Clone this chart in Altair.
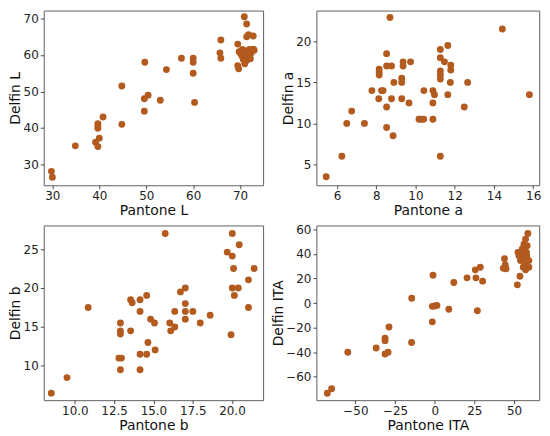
import altair as alt
import pandas as pd

COLOR = "#b35a1f"

# Panel 1: L
p1_x = [29.8, 30.0, 34.9, 39.2, 39.7, 40.0, 39.7, 39.7, 39.7, 40.8, 44.8, 44.8,
        49.7, 49.6, 50.4, 49.6, 53.0, 54.3, 57.5, 60.0, 60.0, 60.0, 60.3,
        65.9, 65.7, 65.9, 70.9, 71.4, 71.8, 71.4, 72.8, 69.5, 69.5, 69.7,
        70.5, 71.0, 71.5, 72.0, 72.8, 73.0, 70.8, 71.3, 71.8, 72.3, 70.7,
        71.2, 71.7, 71.0, 70.5, 72.2, 69.8, 70.2]
p1_y = [28.1, 26.5, 35.1, 36.1, 34.9, 37.2, 41.2, 40.5, 39.9, 43.0, 51.5, 41.0,
        58.0, 48.0, 49.0, 44.6, 47.6, 56.0, 59.1, 59.1, 58.0, 55.0, 47.0,
        64.1, 60.6, 59.1, 70.5, 68.5, 65.6, 65.0, 65.2, 63.0, 57.1, 56.2,
        61.5, 60.8, 61.2, 61.5, 61.6, 61.3, 60.0, 59.5, 60.2, 60.5, 58.8,
        58.3, 58.8, 57.6, 59.5, 59.0, 60.9, 60.2]

# Panel 2: a
p2_x = [5.45, 6.25, 6.5, 6.75, 7.4, 7.78, 8.13, 8.15, 8.15, 8.15, 8.27, 8.35,
        8.53, 8.53, 8.53, 8.53, 8.7, 8.78, 8.78, 8.86, 8.9, 9.3, 9.3, 9.3,
        9.37, 9.37, 9.67, 9.75, 10.18, 10.3, 10.42, 10.43, 10.89, 10.97,
        10.89, 10.89, 11.27, 11.27, 11.65, 11.27, 11.48, 11.27, 11.27, 11.27,
        11.8, 11.8, 11.78, 11.65, 12.49, 12.66, 14.43, 15.81]
p2_y = [3.5, 6.0, 10.0, 11.5, 10.0, 14.0, 13.0, 16.6, 16.25, 15.9, 14.0, 14.0,
        18.5, 17.0, 12.0, 9.5, 22.9, 17.0, 13.0, 8.5, 15.0, 15.5, 15.0, 13.0,
        17.5, 17.0, 12.5, 17.5, 10.5, 10.5, 10.5, 14.0, 14.0, 13.5,
        12.5, 10.5, 6.0, 19.0, 19.5, 18.0, 17.5, 16.4, 15.9, 15.4,
        17.1, 16.5, 15.0, 13.5, 12.0, 15.0, 21.5, 13.5]

# Panel 3: b
p3_x = [8.5, 9.5, 10.85, 12.9, 12.9, 12.9, 12.8, 12.97, 12.9, 13.55, 13.65,
        13.55, 14.15, 14.15, 14.15, 14.57, 14.15, 14.57, 14.65, 14.82, 15.07,
        15.11, 15.75, 16.04, 16.1, 16.36, 16.36, 16.72, 17.03, 17.03, 17.03,
        17.03, 17.51, 17.98, 18.61, 19.94, 19.7, 20.02, 20.02, 20.46, 20.1,
        20.02, 20.4, 20.15, 21.05, 21.41, 21.05]
p3_y = [6.5, 8.5, 17.5, 15.5, 14.5, 14.1, 11.0, 11.0, 9.5, 18.5, 18.1,
        14.5, 18.5, 17.0, 11.5, 11.5, 9.5, 19.05, 13.0, 16.0, 15.5,
        12.05, 27.0, 15.5, 14.5, 15.0, 17.0, 19.5, 20.0, 18.0, 17.0,
        16.0, 17.0, 15.5, 16.5, 14.0, 24.6, 27.0, 24.1, 25.55, 22.5,
        20.0, 20.0, 19.05, 21.05, 22.5, 17.5]

# Panel 4: ITA
p4_x = [-67.7, -65.0, -54.8, -36.9, -31.3, -31.3, -28.8, -31.3, -29.4, -14.5,
        -14.6, -1.06, -1.5, 0.0, 1.4, -1.5, 8.9, 12.06, 20.4, 26.0, 25.6,
        28.75, 30.2, 26.9, 44.0, 44.5, 43.3, 45.0, 53.75, 52.1,
        58.75, 57.3, 56.25, 58.3, 55.2, 54.6, 53.1, 56.25, 57.9, 59.4, 57.3,
        59.4, 57.3, 55.8, 54.1, 52.5, 56.5, 58.0, 55.0]
p4_y = [-73.4, -69.7, -40.0, -36.6, -28.6, -30.6, -19.5, -41.4, -40.0, 3.9,
        -32.1, 22.6, -2.7, -2.4, -1.9, -15.3, -5.1, 16.7, 20.5, 20.5, 27.0,
        29.1, 17.8, -6.2, 36.1, 31.0, 28.3, 27.8, 21.8, 14.8,
        56.5, 52.0, 47.9, 46.6, 43.9, 39.9, 38.5, 37.1, 41.2, 34.5, 31.8,
        29.1, 27.0, 29.1, 34.5, 41.2, 44.0, 38.0, 36.0]

WL, WR, H = 221, 224.5, 176


def panel(xs, ys, xdom, ydom, xticks, yticks, xtitle, ytitle, w, xfmt="d", yfmt="d"):
    df = pd.DataFrame({"x": xs, "y": ys})
    return alt.Chart(df).mark_circle(size=48, color=COLOR, opacity=1).encode(
        x=alt.X("x:Q", scale=alt.Scale(domain=xdom, nice=False, zero=False),
                axis=alt.Axis(values=xticks, format=xfmt, title=xtitle)),
        y=alt.Y("y:Q", scale=alt.Scale(domain=ydom, nice=False, zero=False),
                axis=alt.Axis(values=yticks, format=yfmt, title=ytitle)),
    ).properties(width=w, height=H)


c1 = panel(p1_x, p1_y, [28.16, 74.9], [24.29, 72.18], [30, 40, 50, 60, 70],
           [30, 40, 50, 60, 70], "Pantone L", "Delfin L", WL)
c2 = panel(p2_x, p2_y, [4.95, 16.31], [2.46, 23.75], [6, 8, 10, 12, 14, 16],
           [5, 10, 15, 20], "Pantone a", "Delfin a", WR)
c3 = panel(p3_x, p3_y, [8.02, 21.98], [5.6, 28.03], [10, 12.5, 15, 17.5, 20],
           [10, 15, 20, 25], "Pantone b", "Delfin b", WL, xfmt=".1f")
c4 = panel(p4_x, p4_y, [-74.6, 65.9], [-78.97, 63.07], [-50, -25, 0, 25, 50],
           [-60, -40, -20, 0, 20, 40, 60], "Pantone ITA", "Delfin ITA", WR)

chart = alt.concat(c1, c2, c3, c4, columns=2,
                   spacing={"row": 40.5, "column": 53.7}, bounds="flush").properties(
    padding={"left": 0, "top": 0, "right": 0, "bottom": 0}
).configure_view(
    stroke="#606060", strokeWidth=1
).configure_axis(
    grid=False, domain=False,
    tickColor="#222222", tickSize=3.5, tickWidth=0.8,
    labelFont="DejaVu Sans", labelFontSize=12, labelColor="#222222", labelPadding=2,
    titleFont="DejaVu Sans", titleFontSize=14, titleFontWeight="normal",
    titleColor="#111111",
).configure_axisY(
    titlePadding=0.5
).configure_axisX(
    titlePadding=2
)

chart.save("out.html", embed_options={"renderer": "svg", "actions": False})
